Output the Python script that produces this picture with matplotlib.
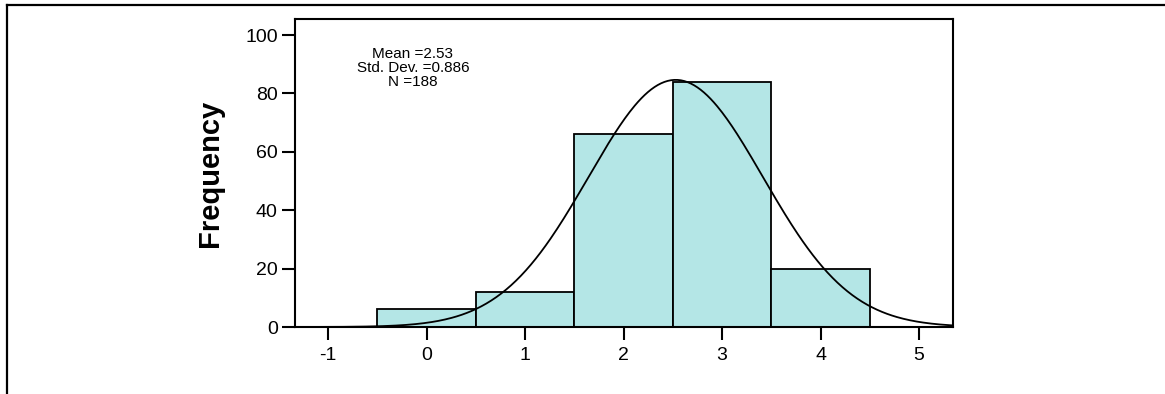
import numpy as np
import matplotlib
matplotlib.use("Agg")
import matplotlib.pyplot as plt
from matplotlib.lines import Line2D

# ---- data ----
bin_centers = [0, 1, 2, 3, 4]
frequencies = [6, 12, 66, 84, 20]
mean_val = 2.53
std_val = 0.886
n_val = 188
x_ticks = [-1, 0, 1, 2, 3, 4, 5]
y_ticks = [0, 20, 40, 60, 80, 100]
y_label = "Frequency"
stats_text = "Mean =2.53\nStd. Dev. =0.886\nN =188"
title_text = "Figure 2: Competence in Information Technology Scores by Gender"

plt.rcParams['font.family'] = ['Liberation Sans', 'DejaVu Sans']

W, H = 1165, 394
fig = plt.figure(figsize=(W / 100, H / 100), dpi=100)

ax = fig.add_axes([295 / W, 1 - 327 / H, (953 - 295) / W, (327 - 19) / H])

ax.bar(bin_centers, frequencies, width=1.0, color='#b4e6e6', edgecolor='black',
       linewidth=1.3, zorder=2)

xmin, xmax = -1.335, 5.345
xs = np.linspace(xmin, xmax, 400)
ys = n_val * 1.0 / (std_val * np.sqrt(2 * np.pi)) * np.exp(-0.5 * ((xs - mean_val) / std_val) ** 2)
ax.plot(xs, ys, color='black', linewidth=1.3, zorder=3)

ax.set_xlim(xmin, xmax)
ax.set_ylim(0, 105.5)
ax.set_xticks(x_ticks)
ax.set_xticklabels([str(t) for t in x_ticks])
ax.set_yticks(y_ticks)
ax.set_yticklabels([str(t) for t in y_ticks])
ax.tick_params(axis='both', direction='out', length=9.5, width=1.5, labelsize=14,
               color='black')
ax.tick_params(axis='x', pad=5)
ax.tick_params(axis='y', pad=3)
for s in ax.spines.values():
    s.set_linewidth(1.5)
    s.set_color('black')

ax.set_ylabel(y_label, fontsize=21, fontweight='bold', labelpad=10)
ax.yaxis.set_label_coords((224 - 295) / (953 - 295), 0.5)

ax.text(413, H - 68, stats_text, transform=None, ha='center', va='center',
        fontsize=11, linespacing=1.0)

# outer frame lines (page box)
fig.add_artist(Line2D([7 / W, 1.0], [1 - 5 / H, 1 - 5 / H], transform=fig.transFigure,
                      color='black', linewidth=1.6))
fig.add_artist(Line2D([7 / W, 7 / W], [0.0, 1 - 5 / H], transform=fig.transFigure,
                      color='black', linewidth=1.6))

# caption of the page, cut off by the top edge as in the reference
fig.text(20 / W, 1 + 4.6 / H, title_text, ha='left', va='baseline',
         fontsize=19, fontweight='bold', family=['Liberation Serif', 'DejaVu Serif'])

fig.savefig("out.png", dpi=100)
